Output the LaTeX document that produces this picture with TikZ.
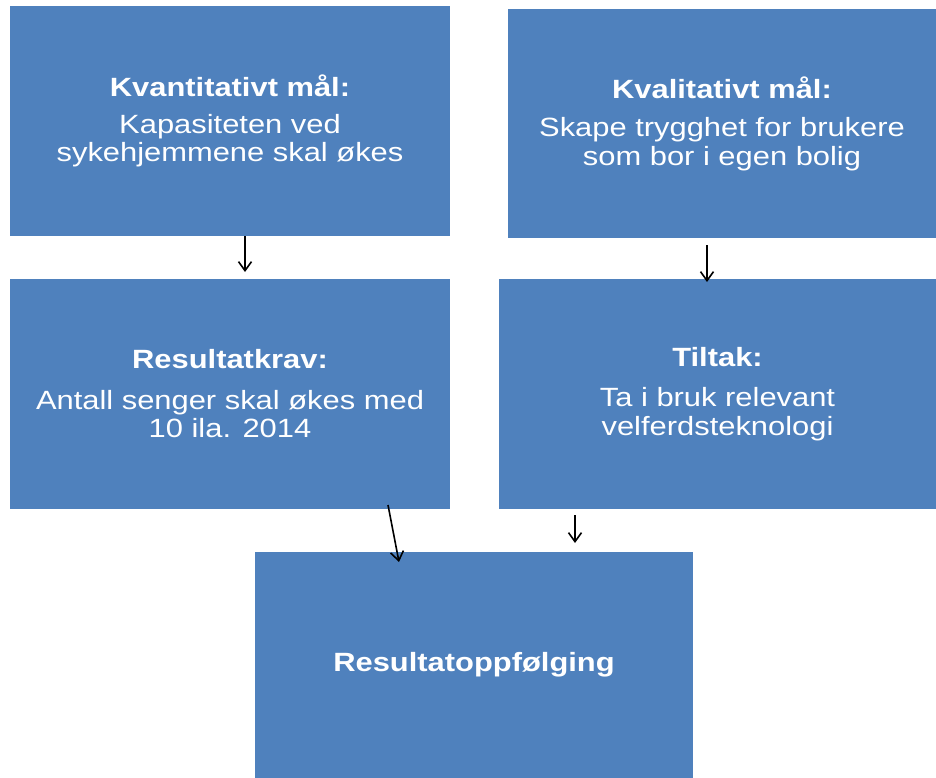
\documentclass[tikz,border=0pt]{standalone}
\usepackage{fontspec}
\setmainfont{Liberation Sans}[FakeStretch=1.17]
\usetikzlibrary{arrows.meta, positioning}
\definecolor{boksblaa}{HTML}{4F81BD}

\tikzset{
  boks/.style={fill=boksblaa, text=white, inner sep=0pt, outer sep=0pt,
    align=center, font=\fontsize{26.4}{28.5}\selectfont},
  pil/.style={-{Straight Barb[length=9pt,width=13pt]}, line width=1.6pt},
}

\begin{document}
\begin{tikzpicture}[x=1pt, y=-1pt]
        \useasboundingbox (0,0) rectangle (936,778);

        \node[boks, minimum width=440pt, minimum height=230pt] (kvant) at (230,121)
            {\textbf{Kvantitativt mål:}\\[8pt]Kapasiteten ved\\sykehjemmene skal økes};
        \node[boks, minimum width=428pt, minimum height=229pt] (kval) at (722,123.5)
            {\textbf{Kvalitativt mål:}\\[10pt]Skape trygghet for brukere\\som bor i egen bolig};
        \node[boks, minimum width=440pt, minimum height=230pt] (krav) at (230,394)
            {\textbf{Resultatkrav:}\\[12pt]Antall senger skal økes med\\10 ila. 2014};
        \node[boks, minimum width=437pt, minimum height=230pt] (tiltak) at (717.5,394)
            {\textbf{Tiltak:}\\[12pt]Ta i bruk relevant\\velferdsteknologi};
        \node[boks, minimum width=438pt, minimum height=226pt] (oppf) at (474,665)
            {\textbf{Resultatoppfølging}};

        \draw[pil] ([xshift=15pt]kvant.south) -- ([xshift=15pt, yshift=7pt]krav.north);
        \draw[pil] ([xshift=-15pt, yshift=-7pt]kval.south) -- ([xshift=-10.5pt, yshift=-3pt]tiltak.north);
        \draw[pil] ([xshift=158pt, yshift=4pt]krav.south) -- ([xshift=-75pt, yshift=-10pt]oppf.north);
        \draw[pil] ([xshift=-142.5pt, yshift=-6pt]tiltak.south) -- ([xshift=101pt, yshift=9pt]oppf.north);
    \end{tikzpicture}
\end{document}
